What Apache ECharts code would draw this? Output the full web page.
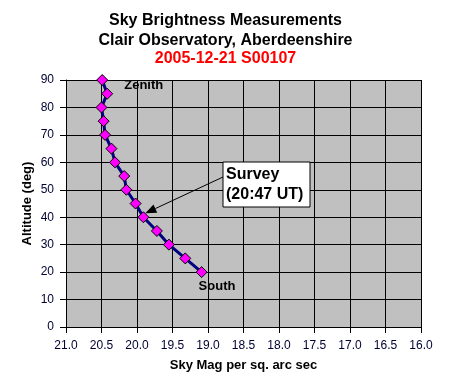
<!DOCTYPE html>
<html><head><meta charset="utf-8">
<script src="https://cdn.jsdelivr.net/npm/echarts@6/dist/echarts.min.js"></script>
<style>html,body{margin:0;padding:0;background:#fff}#c{width:451px;height:378px}</style>
</head><body><div id="c"></div>
<script>
const skyMag = [20.49, 20.42, 20.50, 20.47, 20.45, 20.36, 20.31, 20.18, 20.15, 20.02, 19.91, 19.72, 19.55, 19.32, 19.09];
const altitude = [90, 85, 80, 75, 70, 65, 60, 55, 50, 45, 40, 35, 30, 25, 20];
const titleLines = ["Sky Brightness Measurements", "Clair Observatory, Aberdeenshire"];
const subtitle = "2005-12-21 S00107";
const xTicks = { min: 16, max: 21, step: 0.5 };
const yTicks = { min: 0, max: 90, step: 10 };
const surveyIndex = 10;

const font = "Liberation Sans, Arial, sans-serif";
const chart = echarts.init(document.getElementById('c'), null, {renderer: 'canvas'});
const data = skyMag.map((m, i) => [m, altitude[i]]);

chart.setOption({
  backgroundColor: '#fff',
  animation: false,
  title: [
    {text: titleLines.join('\n'), left: 'center', top: 6,
     textStyle: {fontFamily: font, fontSize: 16, fontWeight: 'bold', color: '#000', lineHeight: 20}},
    {text: subtitle, left: 'center', top: 46,
     textStyle: {fontFamily: font, fontSize: 16, fontWeight: 'bold', color: '#ff0000'}}
  ],
  grid: {left: 66, right: 30, top: 80, bottom: 51, containLabel: false, outerBoundsMode: 'none',
         show: true, backgroundColor: '#c0c0c0', borderWidth: 0},
  xAxis: {
    type: 'value', min: xTicks.min, max: xTicks.max, interval: xTicks.step, inverse: true,
    name: 'Sky Mag per sq. arc sec', nameLocation: 'middle', nameGap: 32,
    nameTextStyle: {fontFamily: font, fontSize: 13, fontWeight: 'bold', color: '#000'},
    axisLine: {show: true, lineStyle: {color: '#000', width: 1}},
    axisTick: {show: true, length: 6, lineStyle: {color: '#000'}},
    axisLabel: {fontFamily: font, fontSize: 12, color: '#000033', margin: 13, formatter: v => v.toFixed(1)},
    splitLine: {show: true, lineStyle: {color: '#000', width: 1}}
  },
  yAxis: {
    type: 'value', min: yTicks.min, max: yTicks.max, interval: yTicks.step,
    name: 'Altitude (deg)', nameLocation: 'middle', nameGap: 32, nameRotate: 90, nameMoveOverlap: false,
    nameTextStyle: {fontFamily: font, fontSize: 13, fontWeight: 'bold', color: '#000'},
    axisLine: {show: true, lineStyle: {color: '#000', width: 1}},
    axisTick: {show: true, length: 6, lineStyle: {color: '#000'}},
    axisLabel: {fontFamily: font, fontSize: 12, color: '#000033', margin: 12},
    splitLine: {show: true, lineStyle: {color: '#000', width: 1}}
  },
  series: [{
    type: 'line', data: data,
    symbol: 'diamond', symbolSize: 11,
    lineStyle: {color: '#000080', width: 3},
    itemStyle: {color: '#ff00ff', borderColor: '#000', borderWidth: 1},
    label: {show: false},
    z: 3
  }]
});

function place() {
  const top = chart.convertToPixel({gridIndex: 0}, data[0]);
  const low = chart.convertToPixel({gridIndex: 0}, data[data.length - 1]);
  const sv = chart.convertToPixel({gridIndex: 0}, data[surveyIndex]);
  const bx = 223, by = 162, bw = 87, bh = 45;
  const ax = bx, ay = 177;
  const tx = sv[0] + 2, ty = sv[1] - 4;
  const ang = Math.atan2(ty - ay, tx - ax);
  const hl = 11, hw = 4.5;
  const p1 = [tx - hl * Math.cos(ang) + hw * Math.sin(ang), ty - hl * Math.sin(ang) - hw * Math.cos(ang)];
  const p2 = [tx - hl * Math.cos(ang) - hw * Math.sin(ang), ty - hl * Math.sin(ang) + hw * Math.cos(ang)];
  chart.setOption({
    graphic: [
      {type: 'text', left: top[0] + 22, top: top[1] - 1, z: 10,
       style: {text: 'Zenith', font: 'bold 13px ' + font, fill: '#000'}},
      {type: 'text', left: low[0] - 3, top: low[1] + 8, z: 10,
       style: {text: 'South', font: 'bold 13px ' + font, fill: '#000'}},
      {type: 'line', z: 10, shape: {x1: ax, y1: ay, x2: (p1[0] + p2[0]) / 2, y2: (p1[1] + p2[1]) / 2},
       style: {stroke: '#000', lineWidth: 1}},
      {type: 'polygon', z: 10, shape: {points: [[tx, ty], p1, p2]}, style: {fill: '#000'}},
      {type: 'rect', z: 10, shape: {x: bx, y: by, width: bw, height: bh},
       style: {fill: '#fff', stroke: '#000', lineWidth: 1}},
      {type: 'text', z: 11, left: bx + 3, top: by + 3,
       style: {text: 'Survey\n(20:47 UT)', font: 'bold 16px ' + font, fill: '#000', lineHeight: 20}}
    ]
  });
}
place();
</script></body></html>
